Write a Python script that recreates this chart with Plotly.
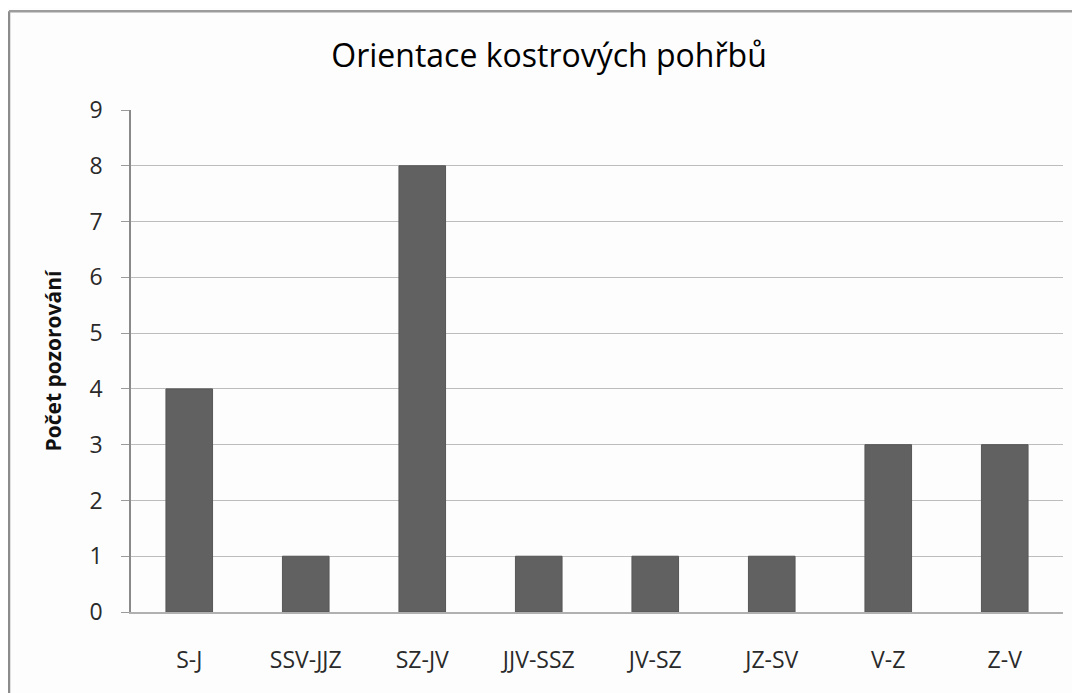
import plotly.graph_objects as go

categories = ["S-J", "SSV-JJZ", "SZ-JV", "JJV-SSZ", "JV-SZ", "JZ-SV", "V-Z", "Z-V"]
counts = [4, 1, 8, 1, 1, 1, 3, 3]
y_ticks = list(range(0, 10))

W, H = 1080, 693
# page body adds an 8px offset; positions below are in figure coordinates
L, R, T, B = 123, 25, 102, 89
pw, ph = W - L - R, H - T - B

fig = go.Figure(go.Bar(
    x=categories, y=counts, width=0.4,
    marker=dict(color="#616161", line=dict(color="#575757", width=1)),
))

fig.update_layout(
    width=W, height=H,
    margin=dict(l=L, r=R, t=T, b=B),
    paper_bgcolor="#fdfdfd", plot_bgcolor="#fdfdfd",
    showlegend=False,
    bargap=0.6,
    title=dict(text="Orientace kostrových pohřbů", x=541 / W, xanchor="center",
               y=1 - 48 / H, yanchor="middle",
               font=dict(family="Open Sans", size=32, color="#000000")),
    font=dict(family="Open Sans", color="#333333"),
)
fig.update_xaxes(
    showline=True, linecolor="#b0b0b0", linewidth=2, showgrid=False,
    ticks="", tickfont=dict(size=23, color="#2a2a2a"), ticklabelstandoff=26,
)
fig.update_yaxes(
    range=[0, 9], tickvals=y_ticks, showgrid=True, gridcolor="#bdbdbd", gridwidth=1,
    showline=True, linecolor="#8a8a8a", linewidth=1.5,
    ticks="outside", ticklen=8, tickcolor="#9a9a9a",
    tickfont=dict(size=23, color="#2a2a2a"), ticklabelstandoff=14,
    zeroline=False,
    title=dict(text="<b>Počet pozorování</b>", standoff=22,
               font=dict(size=21, color="#111111")),
)

# chart border (left and top edges visible)
bx = (1.0 - L) / pw
by = (H - B - 3.3) / ph
fig.add_shape(type="line", xref="paper", yref="paper", x0=bx, x1=bx, y0=by, y1=-0.3,
              line=dict(color="#8c8c8c", width=2.5))
fig.add_shape(type="line", xref="paper", yref="paper", x0=bx, x1=1.2, y0=by, y1=by,
              line=dict(color="#9c9c9c", width=2.5))

fig.write_html("out.html")
